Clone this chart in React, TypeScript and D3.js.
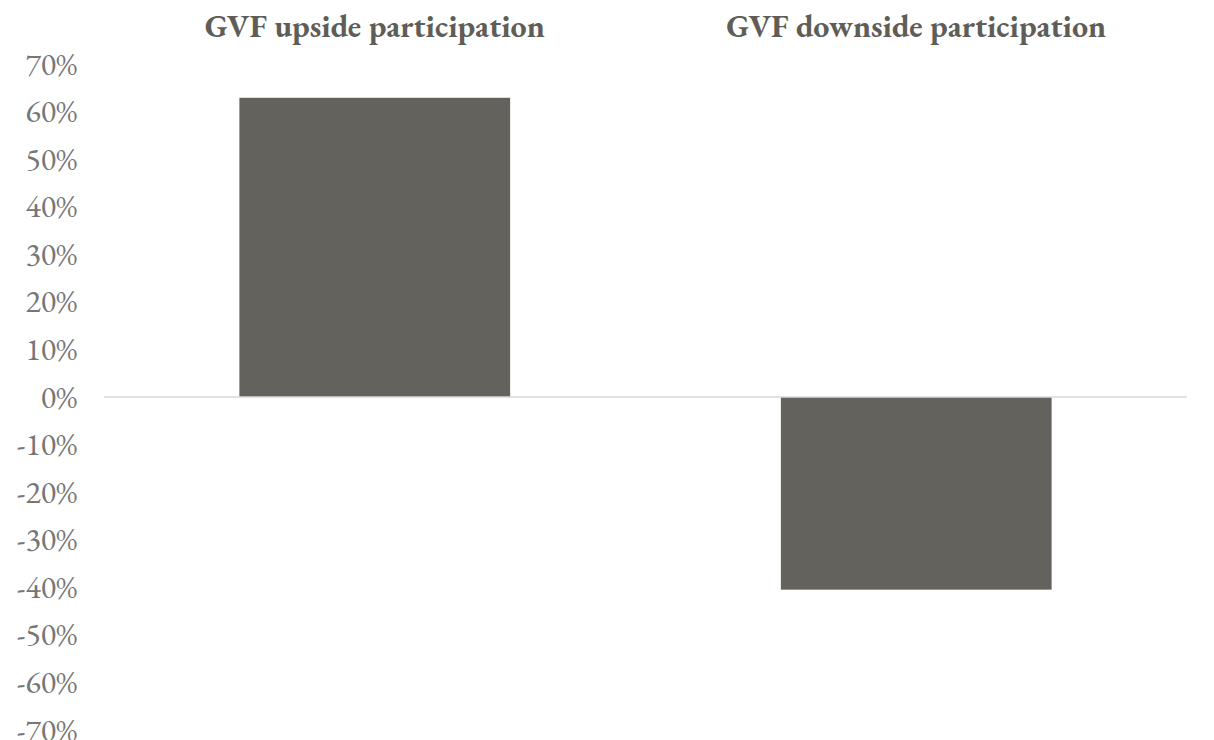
import React from "react";
import * as d3 from "d3";

const categories = ["GVF upside participation", "GVF downside participation"];
const values = [0.629, -0.405];
const tickValues = [0.7, 0.6, 0.5, 0.4, 0.3, 0.2, 0.1, 0, -0.1, -0.2, -0.3, -0.4, -0.5, -0.6, -0.7];

const width = 1214;
const height = 740;
const margin = { top: 64, right: 27, bottom: 10, left: 104 };

const App = () => {
  const x = d3
    .scaleBand()
    .domain(categories)
    .range([margin.left, width - margin.right])
    .paddingInner(0.5)
    .paddingOuter(0.25);

  const y = d3
    .scaleLinear()
    .domain([-0.7, 0.7])
    .range([height - margin.bottom, margin.top]);

  // excel style labels, plain hyphen for negatives
  const fmt = (t: number) => d3.format(".0%")(t).replace("−", "-");
  const serif = "'EB Garamond', Garamond, 'Liberation Serif', 'DejaVu Serif', serif";

  const step = x.step();

  return (
    <svg
      width={width}
      height={height}
      style={{ position: "absolute", left: 0, top: 0, background: "#fff" }}
    >
      {categories.map((c) => (
        <text
          key={"t" + c}
          x={(x(c) as number) + x.bandwidth() / 2}
          y={37}
          textAnchor="middle"
          fontFamily={serif}
          fontWeight="bold"
          fontSize={32}
          fill="#5e5d58"
        >
          {c}
        </text>
      ))}

      {tickValues.map((t) => (
        <text
          key={"y" + t}
          x={77}
          y={y(t)}
          dy="0.33em"
          textAnchor="end"
          fontFamily={serif}
          fontSize={32}
          fill="#767676"
        >
          {fmt(t)}
        </text>
      ))}

      {categories.map((c, i) => {
        const v = values[i];
        return (
          <rect
            key={"b" + c}
            x={x(c)}
            width={x.bandwidth()}
            y={y(Math.max(0, v))}
            height={Math.abs(y(v) - y(0))}
            fill="#63625c"
          />
        );
      })}

      <line
        x1={margin.left}
        x2={margin.left + step * categories.length}
        y1={y(0)}
        y2={y(0)}
        stroke="#d9d9d9"
        strokeWidth={1.5}
      />
    </svg>
  );
};

export default App;
